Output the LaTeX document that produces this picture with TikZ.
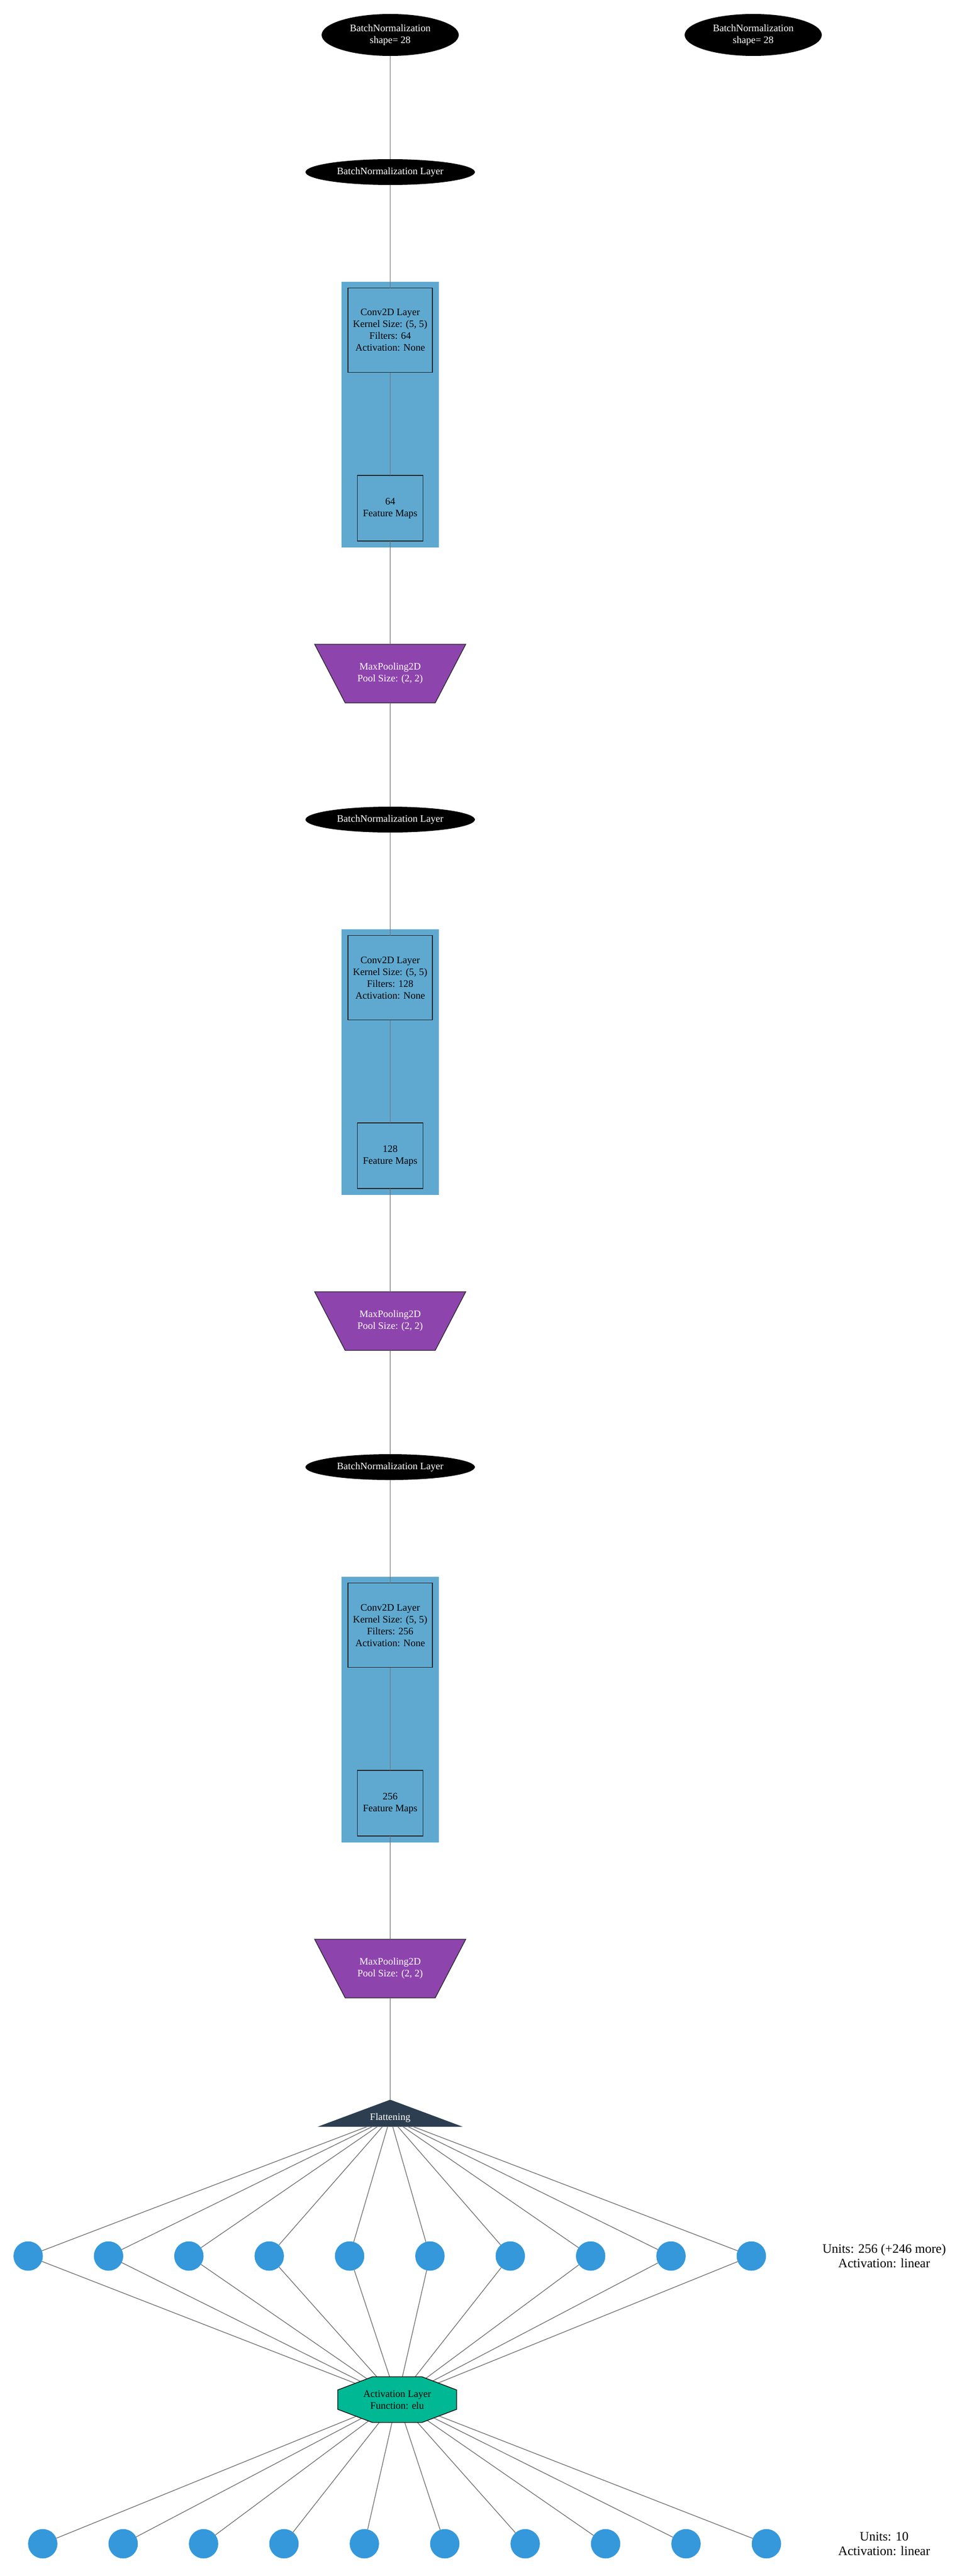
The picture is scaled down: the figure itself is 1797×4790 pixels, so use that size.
\documentclass[tikz,border=0pt]{standalone}
\usepackage{fontspec}
\setmainfont{Liberation Serif}
\usetikzlibrary{shapes.geometric,fit,calc,backgrounds}
\definecolor{convblue}{HTML}{5FA9D0}
\definecolor{poolpurple}{HTML}{8E44AD}
\definecolor{flatnavy}{HTML}{2C3E50}
\definecolor{actgreen}{HTML}{00B894}
\definecolor{unitblue}{HTML}{3498DB}
\definecolor{linkgray}{HTML}{707070}
\tikzset{
  bn/.style={ellipse,fill=black,text=white,minimum width=315,minimum height=48},
  inp/.style={bn,minimum width=255,minimum height=78},
  conv/.style={rectangle,draw=black!85,line width=1.5,fill=convblue,minimum size=157},
  fmap/.style={conv,minimum size=122},
  pool/.style={trapezium,trapezium stretches body,trapezium left angle=62,trapezium right angle=62,
    shape border rotate=180,draw=black!85,line width=1.3,fill=poolpurple,text=white,
    inner ysep=34,minimum width=281,minimum height=109},
  act/.style={minimum width=224,minimum height=88,
    path picture={\filldraw[fill=actgreen,draw=black,line width=1.3]
      (path picture bounding box.center) ++(-110.5,18) -- ++(64.5,24.5) -- ++(92,0) -- ++(64.5,-24.5)
      -- ++(0,-36) -- ++(-64.5,-24.5) -- ++(-92,0) -- ++(-64.5,24.5) -- cycle;}},
  unit/.style={circle,fill=unitblue,minimum size=54.6},
  units/.style={font=\fontsize{24}{27.5}\selectfont},
  cluster/.style={rectangle,fill=convblue,inner sep=12},
  link/.style={draw=linkgray,line width=1.3},
}
\begin{document}
\begin{tikzpicture}[x=1pt,y=1pt,align=center,every node/.style={inner sep=1,outer sep=0,font=\fontsize{18.5}{22}\selectfont}]
	\useasboundingbox (0,0) rectangle (1797,-4790);
	\node (0) [inp] at (725.5,-65) {BatchNormalization\\shape= 28};
	\node (1) [inp,right of=0,node distance=675pt] {BatchNormalization\\shape= 28};
	\node (2) [bn,below of=0,node distance=255pt] {BatchNormalization Layer};
	\node (3) [conv,below of=2,node distance=294pt] {Conv2D Layer\\Kernel Size: (5, 5)\\Filters: 64\\Activation: None};
	\node (4) [fmap,below of=3,node distance=331pt] {64\\Feature Maps};
	\node (5) [pool,below of=4,node distance=307.5pt] {MaxPooling2D\\Pool Size: (2, 2)};
	\node (6) [bn,below of=5,node distance=271.5pt] {BatchNormalization Layer};
	\node (7) [conv,below of=6,node distance=294pt] {Conv2D Layer\\Kernel Size: (5, 5)\\Filters: 128\\Activation: None};
	\node (8) [fmap,below of=7,node distance=331pt] {128\\Feature Maps};
	\node (9) [pool,below of=8,node distance=307.5pt] {MaxPooling2D\\Pool Size: (2, 2)};
	\node (10) [bn,below of=9,node distance=271.5pt] {BatchNormalization Layer};
	\node (11) [conv,below of=10,node distance=294pt] {Conv2D Layer\\Kernel Size: (5, 5)\\Filters: 256\\Activation: None};
	\node (12) [fmap,below of=11,node distance=331pt] {256\\Feature Maps};
	\node (13) [pool,below of=12,node distance=307.5pt] {MaxPooling2D\\Pool Size: (2, 2)};
	\node (14) [below of=13,node distance=277.5pt,minimum width=263,minimum height=32,text=white] {Flattening};
	\coordinate (14a) at ($(14)+(0,33)$);
	\node (15) [act] at (738.5,-4462) {Activation Layer\\Function: elu};
	\foreach \i in {0,...,9} {
		\node (h\i) [unit] at (52.4+149.4*\i,-4195) {};
		\node (o\i) [unit] at (79.5+149.5*\i,-4730) {};
	}
	\node (16) [units,right of=h9,node distance=247pt] {Units: 256 (+246 more)\\Activation: linear};
	\node (17) [units,right of=o9,node distance=219pt] {Units: 10\\Activation: linear};
	% conv clusters, flatten triangle and the links into the octagon go behind the nodes
	\begin{scope}[on background layer]
		\node [cluster,fit=(3)(4)] {};
		\node [cluster,fit=(7)(8)] {};
		\node [cluster,fit=(11)(12)] {};
		\filldraw[flatnavy,line width=1.3] (14.south west) -- (14.south east) -- (14a) -- cycle;
		\foreach \i in {0,...,9}
			\path[link] (h\i) edge (15.center) (15.center) edge (o\i);
	\end{scope}
	\path[link]
		(0) edge (2)
		(2) edge (3)
		(3) edge (4)
		(4) edge (5)
		(5) edge (6)
		(6) edge (7)
		(7) edge (8)
		(8) edge (9)
		(9) edge (10)
		(10) edge (11)
		(11) edge (12)
		(12) edge (13)
		(13) edge (14a);
	\foreach \i in {0,...,9}
		\path[link] (14) edge (h\i);
\end{tikzpicture}
\end{document}
